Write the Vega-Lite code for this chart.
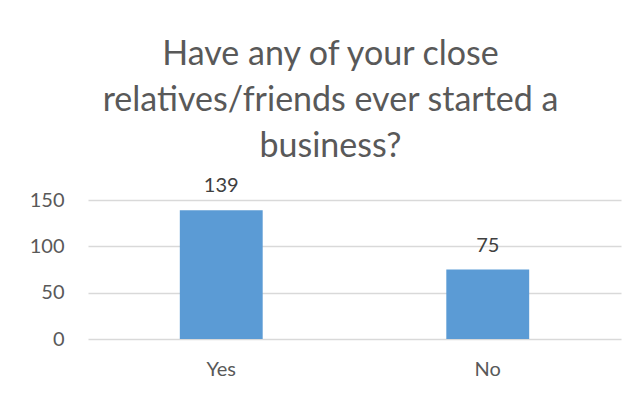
{
  "$schema": "https://vega.github.io/schema/vega-lite/v6.json",
  "width": 533,
  "height": 139,
  "autosize": {"type": "none"},
  "padding": {"left": 88, "top": 200, "right": 17, "bottom": 59},
  "background": "white",
  "title": {
    "text": ["Have any of your close", "relatives/friends ever started a", "business?"],
    "font": "Lato",
    "fontSize": 34,
    "fontWeight": "normal",
    "color": "#595959",
    "lineHeight": 46,
    "anchor": "middle",
    "dx": -24,
    "offset": 12
  },
  "data": {"values": [{"answer": "Yes", "count": 139}, {"answer": "No", "count": 75}]},
  "encoding": {
    "x": {
      "field": "answer", "type": "nominal", "sort": null,
      "scale": {"paddingInner": 0.689, "paddingOuter": 0.3445},
      "axis": {"title": null, "labelAngle": 0, "domain": false, "ticks": false, "labelFont": "Lato", "labelFontSize": 20, "labelColor": "#595959", "labelPadding": 20}
    },
    "y": {
      "field": "count", "type": "quantitative",
      "scale": {"domain": [0, 150]},
      "axis": {"title": null, "values": [0, 50, 100, 150], "domain": false, "ticks": false, "labelFont": "Lato", "labelFontSize": 20, "labelColor": "#595959", "labelPadding": 24, "gridColor": "#d9d9d9", "gridWidth": 1.5}
    }
  },
  "layer": [
    {"mark": {"type": "bar", "color": "#5b9bd5"}},
    {"mark": {"type": "text", "dy": -18, "baseline": "alphabetic", "font": "Lato", "fontSize": 20, "color": "#404040"}, "encoding": {"text": {"field": "count", "type": "quantitative"}}}
  ],
  "config": {"view": {"stroke": null}}
}
